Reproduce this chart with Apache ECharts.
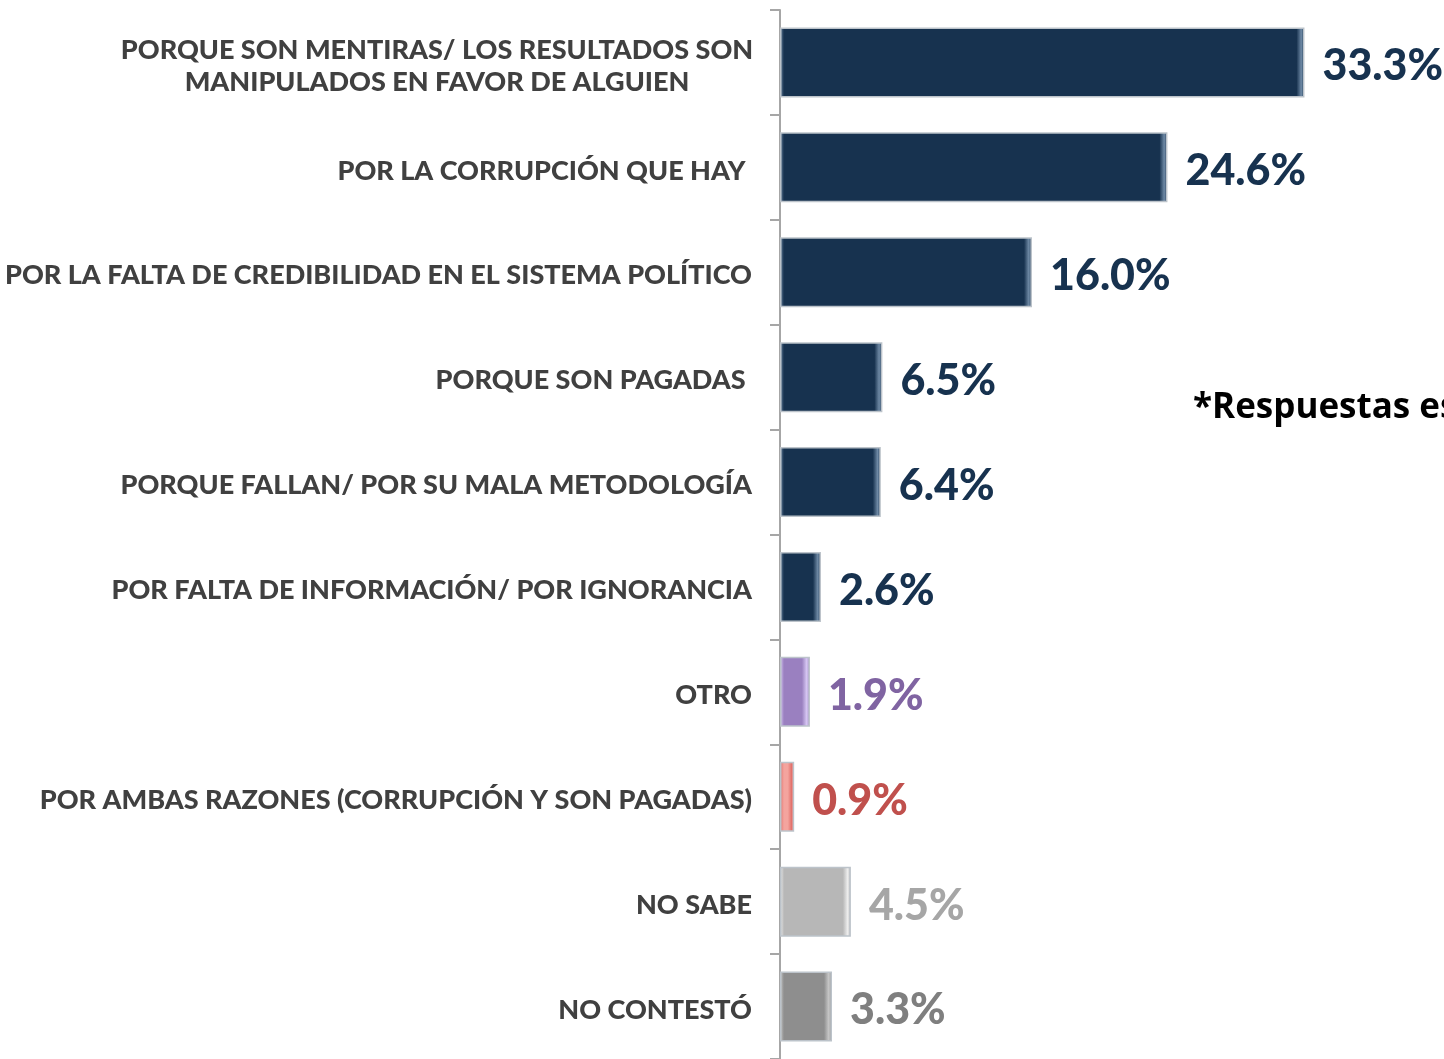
<!DOCTYPE html>
<html>
<head>
<meta charset="utf-8">
<script src="https://cdn.jsdelivr.net/npm/echarts@6/dist/echarts.min.js"></script>
<style>
  html, body { margin: 0; padding: 0; background: #fff; }
  #chart { width: 1444px; height: 1059px; }
</style>
</head>
<body>
<div id="chart"></div>
<script>
  const categories = [
    'PORQUE SON MENTIRAS/ LOS RESULTADOS SON\nMANIPULADOS EN FAVOR DE ALGUIEN',
    'POR LA CORRUPCIÓN QUE HAY ',
    'POR LA FALTA DE CREDIBILIDAD EN EL SISTEMA POLÍTICO',
    'PORQUE SON PAGADAS ',
    'PORQUE FALLAN/ POR SU MALA METODOLOGÍA',
    'POR FALTA DE INFORMACIÓN/ POR IGNORANCIA',
    'OTRO',
    'POR AMBAS RAZONES (CORRUPCIÓN Y SON PAGADAS)',
    'NO SABE',
    'NO CONTESTÓ',
  ];
  const values = [33.3, 24.6, 16.0, 6.5, 6.4, 2.6, 1.9, 0.9, 4.5, 3.3];

  // bar fill, bevel highlight, label colour
  const barColors = ['#17324f', '#17324f', '#17324f', '#17324f', '#17324f', '#17324f', '#9a80c0', '#f4a49e', '#b7b7b7', '#8e8e8e'];
  const edgeColors = ['#6f8aa6', '#6f8aa6', '#6f8aa6', '#6f8aa6', '#6f8aa6', '#6f8aa6', '#d8c8f4', '#e2706a', '#eeeeee', '#c8c8c8'];
  const labelColors = ['#17324f', '#17324f', '#17324f', '#17324f', '#17324f', '#17324f', '#8064a2', '#c0504d', '#a6a6a6', '#7f7f7f'];

  const pxPerUnit = 15.75;

  const chart = echarts.init(document.getElementById('chart'));
  chart.setOption({
    animation: false,
    grid: { left: 780, top: 10, width: 40 * pxPerUnit, height: 1053, containLabel: false },
    xAxis: {
      type: 'value',
      min: 0,
      max: 40,
      show: false,
    },
    yAxis: {
      type: 'category',
      inverse: true,
      data: categories,
      axisLine: { show: true, lineStyle: { color: '#a6a6a6', width: 2 } },
      axisTick: { show: true, length: 10, alignWithLabel: false, lineStyle: { color: '#a6a6a6', width: 2 } },
      axisLabel: {
        color: '#404040',
        fontFamily: 'Lato',
        fontWeight: 900,
        fontSize: 27,
        margin: 28,
        lineHeight: 32,
        padding: [7, 0, 0, 0],
        formatter: function (v, i) {
          if (i === 0) {
            return v.split('\n').map(function (s) { return '{c|' + s + '}'; }).join('\n');
          }
          return v;
        },
        rich: {
          c: {
            width: 630,
            align: 'center',
            color: '#404040',
            fontFamily: 'Lato',
            fontWeight: 900,
            fontSize: 27,
            lineHeight: 32,
          },
        },
      },
    },
    series: [
      {
        type: 'bar',
        barWidth: 70,
        data: values.map(function (v, i) {
          const w = v * pxPerUnit;
          const e = Math.min(0.45, 8 / w);
          return {
            value: v,
            itemStyle: {
              color: {
                type: 'linear', x: 0, y: 0, x2: 1, y2: 0,
                colorStops: [
                  { offset: 0, color: edgeColors[i] },
                  { offset: Math.min(0.3, 4 / w), color: barColors[i] },
                  { offset: 1 - e, color: barColors[i] },
                  { offset: 1 - e * 0.4, color: edgeColors[i] },
                  { offset: 1, color: barColors[i] },
                ],
              },
              borderColor: '#bcc3ca',
              borderWidth: 1.5,
            },
            label: { color: labelColors[i] },
          };
        }),
        label: {
          show: true,
          position: 'right',
          distance: 18,
          offset: [0, 4],
          fontFamily: 'Lato',
          fontWeight: 900,
          fontSize: 43,
          formatter: function (p) { return p.value.toFixed(1) + '%'; },
        },
      },
    ],
    graphic: [
      {
        type: 'text',
        x: 1193,
        y: 408,
        style: {
          text: '*Respuestas espontáneas',
          fill: '#000',
          font: 'bold 35px "Open Sans"',
          verticalAlign: 'middle',
        },
      },
    ],
  });
</script>
</body>
</html>
